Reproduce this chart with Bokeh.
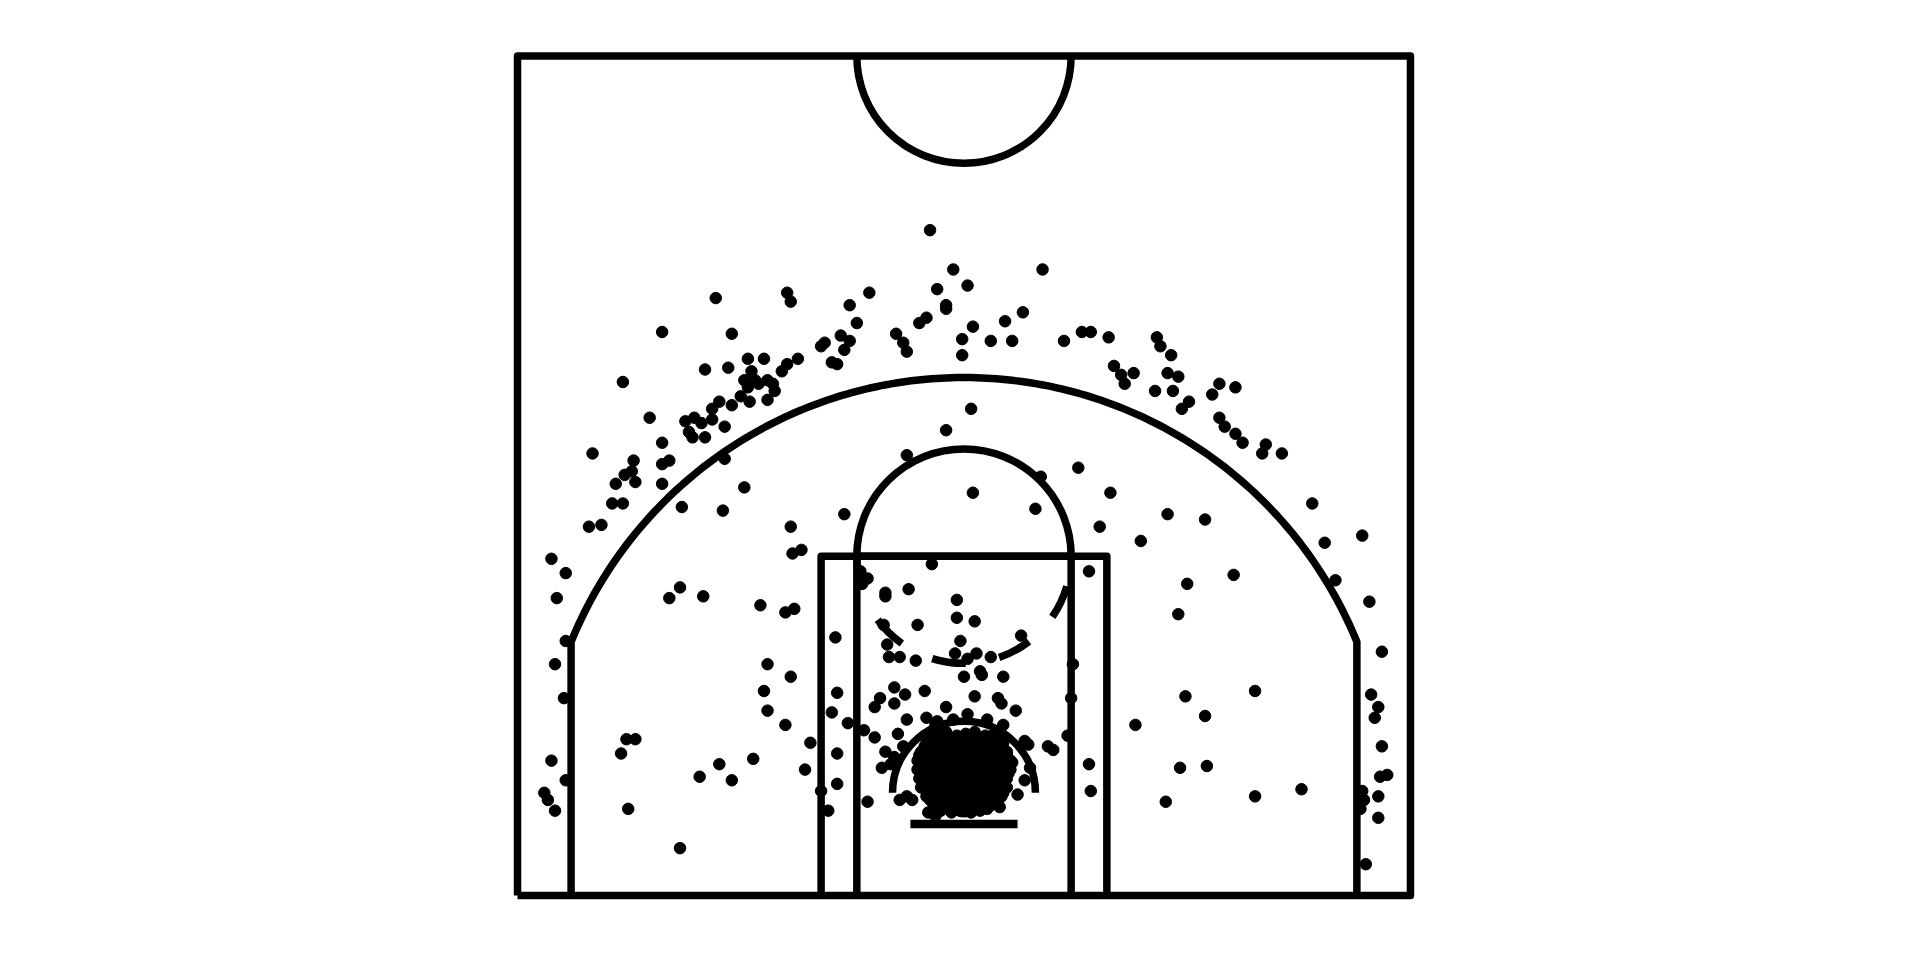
import numpy as np
from bokeh.plotting import figure
from bokeh.models import Range1d
from bokeh.embed import file_html
from bokeh.resources import INLINE

# Shot locations, tenths of feet, hoop at (0, 0), baseline at y = -52.5
above_break_x = [-19, -6, 44, -15, 2, -139, -99, -97, -53, -64, -10, -10, 33, -60, -21, -25, 23, 5,
                 -169, -130, -69, -64, -38, -34, -1, 15, 27, 56, 66, 71, 81, 108, 110, -80, -78, -67,
                 -32, -1, 116, -93, -99, -102, -121, -112, -74, -71, -145, -132, 84, 88, 95, 114, 120,
                 -119, -123, -117, -110, -115, -107, -121, -106, -110, -120, -125, -137, -141, -130,
                 -191, 90, 107, 117, 143, 152, 139, 126, 122, -176, -156, -151, -147, -154, -152, -145,
                 -134, -141, 143, 146, 152, 156, 169, 167, 178, -169, -208, -185, -165, -169, -190,
                 -186, -184, -195, -169, -197, -191, -210, -203, -231, -223, -228, 195, 202, 223, 208, 227]
above_break_y = [320, 298, 298, 287, 289, 282, 285, 280, 285, 278, 278, 276, 274, 268, 271, 268, 269, 266,
                 263, 262, 261, 258, 262, 257, 259, 258, 258, 258, 263, 263, 260, 260, 255, 255, 257, 253,
                 252, 250, 250, 248, 245, 241, 248, 248, 246, 245, 242, 243, 244, 239, 240, 240, 238,
                 241, 236, 236, 236, 234, 234, 232, 230, 225, 224, 227, 224, 220, 222,
                 235, 234, 230, 230, 234, 232, 228, 224, 220, 215, 213, 215, 212, 207, 204, 204,
                 210, 214, 215, 210, 206, 201, 200, 195, 195, 201, 195, 191, 191, 189, 183,
                 185, 179, 178, 178, 167, 167, 154, 155, 136, 128, 114, 167, 145, 149, 124, 112]

corner_x = [234, -223, -229, -224, 228, 232, 230, 234, -231, -223, -235, -233, -229, 237, 233, 223,
            224, 222, 232, 232, 225]
corner_y = [84, 90, 77, 58, 60, 53, 47, 31, 23, 12, 5, 1, -5, 15, 14, 6, 1, -4, 3, -9, -35]

midrange_x = [-134, -123, -158, -135, 4, -10, -32, 43, 64, 5, 82, 40, -67, -97, -91, -96, 76, 99, 114,
              135, 151, 125, 120, -159, -165, -146, -114, -100, -95, -110, -97, -112, -110, -100, -86,
              -89, -189, -184, -192, -137, -148, -130, -118, -188, -159, 124, 135, 96, 163, 121, 136,
              113, 163, 189, 70, 61, 60, 58, 70, 71, 47, 50, -72, -71, -74, -71, -71, -80, -76, -65,
              -56, -54]
midrange_y = [192, 176, 165, 163, 220, 208, 194, 182, 187, 173, 173, 164, 161, 154, 141, 139, 154, 146,
              161, 158, 127, 122, 105, 120, 114, 115, 110, 106, 108, 77, 70, 62, 51, 43, 33,
              18, 35, 35, 27, 21, 14, 12, 24, -4, -26, 59, 48, 43, 62, 19, 20,
              0, 3, 7, 129, 77, 58, 37, 21, 6, 31, 29, 92, 61, 50, 27, 10, 6, -5, 44,
              40, 0]

paint_x = [-18, -58, -54, -57, -44, -44, -31, -4, -26, -45, -4, 6, -2, -43, -42, -36, -27, -5, 2, 7,
           15, 32, 0, 9, 10, 22, -39, -22, -47, -33, -50, -39, 6, 19, 21, 29, -10, -32, -21, -37,
           -50, -44, -15, -6, 2, 13, 22, -16, 34, 36, 37, 34, 30, 27, 20, -20, -16, -36, -32, -29,
           -46, -39, -41, -34]
paint_y = [133, 129, 125, 122, 117, 115, 119, 113, 99, 99, 103, 101, 90, 88, 81, 81, 79, 83, 80, 83,
           81, 93, 70, 73, 71, 70, 64, 62, 58, 60, 53, 55, 59, 58, 55, 51, 53, 46, 47, 38,
           36, 28, 45, 46, 49, 46, 43, 43, 34, 32, 19, 12, 4, 22, -3, -6, -8, 1, 3, 1,
           19, 25, 21, 31]

rim_x = [-15, -10, -4, 1, 6, 12, 17,
         -21, -16, -10, -5, 0, 6, 11, 16, 22,
         -24, -19, -13, -8, -2, 3, 8, 14, 19, 24,
         -26, -21, -16, -10, -5, 1, 6, 11, 17, 22, 26,
         -26, -20, -15, -9, -4, 2, 7, 12, 18, 23, 26,
         -25, -19, -14, -8, -3, 3, 8, 14, 19, 24,
         -24, -18, -13, -7, -2, 4, 9, 14, 20, 24,
         -21, -16, -10, -5, 1, 6, 12, 17, 21,
         -17, -12, -6, -1, 5, 10, 15,
         -13, -7, -2, 4, 9,
         -18, -13, -7, -2, 3, 9, 14, 19,
         -22, -16, -11, -5, 0, 5, 11, 16, 21,
         -25, -19, -14, -8, -3, 3, 8, 14, 19, 24,
         -24, -18, -13, -7, -2, 4, 9, 15, 20, 25,
         -23, -18, -12, -7, -1, 4, 10, 15, 21, 25,
         -22, -16, -11, -5, 0, 6, 11, 17, 22,
         -21, -15, -10, -4, 1, 7, 12, 17, 22,
         -19, -13, -8, -3, 3, 9, 14, 19,
         -15, -9, -4, 2, 8, 13]
rim_y = [38, 39, 37, 38, 39, 37, 38,
         33, 34, 32, 33, 34, 32, 33, 34, 33,
         28, 29, 27, 28, 29, 27, 28, 29, 27, 28,
         23, 24, 22, 23, 24, 22, 23, 24, 22, 23, 23,
         18, 19, 17, 18, 19, 17, 18, 19, 17, 18, 18,
         13, 14, 12, 13, 14, 12, 13, 14, 12, 13,
         8, 9, 7, 8, 9, 7, 8, 9, 7, 8,
         3, 4, 2, 3, 4, 2, 3, 4, 3,
         -2, -1, -3, -2, -1, -3, -2,
         -5, -6, -5, -6, -5,
         36, 36, 35, 36, 36, 35, 36, 35,
         31, 31, 30, 31, 31, 30, 31, 31, 30,
         26, 26, 25, 26, 26, 25, 26, 26, 25, 26,
         21, 21, 20, 21, 21, 20, 21, 21, 20, 21,
         16, 16, 15, 16, 16, 15, 16, 16, 15, 16,
         11, 11, 10, 11, 11, 10, 11, 11, 10,
         6, 6, 5, 6, 6, 5, 6, 6, 5,
         1, 1, 0, 1, 1, 0, 1, 1,
         -3, -3, -4, -3, -3, -4]

shot_x = above_break_x + corner_x + midrange_x + paint_x + rim_x
shot_y = above_break_y + corner_y + midrange_y + paint_y + rim_y

p = figure(width=1920, height=960, x_range=Range1d(-539.5, 535.6), y_range=Range1d(-88.9, 448.6),
           output_backend="svg", toolbar_location=None, min_border=0,
           x_axis_location=None, y_axis_location=None)
p.grid.visible = False
p.outline_line_color = None
p.background_fill_color = "white"
p.border_fill_color = "white"

LW = 7.5
C = "black"

# court outline
p.line([-250, -250, 250, 250, -250], [-52.5, 417.5, 417.5, -52.5, -52.5],
       line_width=LW, line_color=C, line_join="round")
# paint
p.line([-80, -80, 80, 80], [-52.5, 137.5, 137.5, -52.5], line_width=LW, line_color=C, line_join="round")
p.line([-60, -60, 60, 60], [-52.5, 137.5, 137.5, -52.5], line_width=LW, line_color=C, line_join="round")
# free throw circle
p.arc(x=0, y=137.5, radius=60, start_angle=0, end_angle=np.pi, line_width=LW, line_color=C)
p.arc(x=0, y=137.5, radius=60, start_angle=np.pi, end_angle=2 * np.pi, line_width=LW,
      line_color=C, line_dash="34 34")
# restricted area
p.arc(x=0, y=5, radius=40, start_angle=0, end_angle=np.pi, line_width=LW, line_color=C)
# three point line
r3 = 237.5
yk = np.sqrt(r3 ** 2 - 220 ** 2)
a0 = np.arctan2(yk, 220)
th = np.linspace(a0, np.pi - a0, 200)
tx = [220, 220] + list(r3 * np.cos(th)) + [-220, -220]
ty = [-52.5, yk] + list(r3 * np.sin(th)) + [yk, -52.5]
p.line(tx, ty, line_width=LW, line_color=C, line_join="round")
# center court arc
p.arc(x=0, y=417.5, radius=60, start_angle=np.pi, end_angle=2 * np.pi, line_width=LW, line_color=C)
# backboard and hoop
p.line([-30, 30], [-12.5, -12.5], line_width=8.5, line_color=C)
p.arc(x=0, y=0, radius=7.5, start_angle=0, end_angle=2 * np.pi, line_width=5, line_color=C)

p.scatter(shot_x, shot_y, size=11.5, fill_color=C, line_color=C, line_width=1)

open("out.html", "w").write(file_html(p, INLINE))
